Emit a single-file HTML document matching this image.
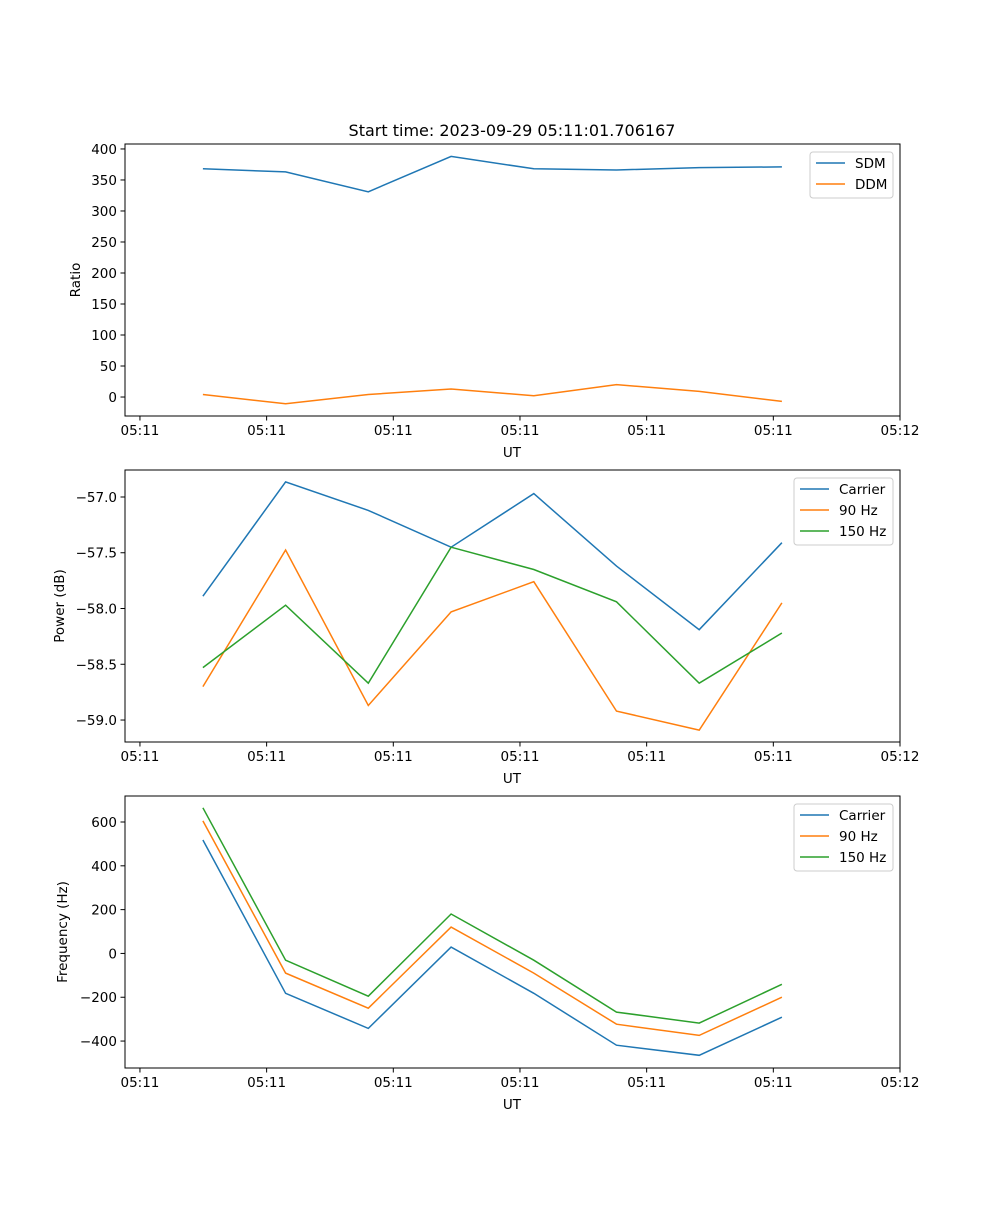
<!DOCTYPE html>
<html><head><meta charset="utf-8"><style>
html,body{margin:0;padding:0;background:#fff;}
svg text{font-family:"DejaVu Sans","Liberation Sans",sans-serif;fill:#000;}
</style></head><body>
<svg id="fig" width="1000" height="1200" xmlns="http://www.w3.org/2000/svg">
<rect width="1000" height="1200" fill="#fff"/>
<text x="512" y="136" font-size="16" text-anchor="middle">Start time: 2023-09-29 05:11:01.706167</text>
</svg>
<script>
const xTickLabels = ["05:11","05:11","05:11","05:11","05:11","05:11","05:12"];
const xTickSeconds = [0,10,20,30,40,50,60];
const sampleSeconds = [4.97,11.5,18.03,24.56,31.09,37.62,44.15,50.68];
const sdm = [368,363,331,388,368,366,370,371];
const ddm = [4,-11,4,13,2,20,9,-7];
const powCarrier = [-57.89,-56.865,-57.12,-57.45,-56.97,-57.62,-58.19,-57.41];
const pow90 = [-58.70,-57.475,-58.87,-58.03,-57.76,-58.92,-59.09,-57.95];
const pow150 = [-58.53,-57.97,-58.67,-57.45,-57.65,-57.94,-58.67,-58.22];
const freqCarrier = [518,-182,-342,29,-182,-419,-465,-291];
const freq90 = [605,-90,-250,120,-90,-323,-374,-200];
const freq150 = [665,-31,-195,180,-31,-268,-318,-141];
const ratioTicks = [0,50,100,150,200,250,300,350,400];
const powTicks = [-59.0,-58.5,-58.0,-57.5,-57.0];
const freqTicks = [-400,-200,0,200,400,600];

const NS="http://www.w3.org/2000/svg";
const svg=document.getElementById('fig');
function el(tag,attrs,parent){const e=document.createElementNS(NS,tag);for(const k in attrs)e.setAttribute(k,attrs[k]);(parent||svg).appendChild(e);return e;}
const L=125,R=900,X0=-1.18,X1=60;
const xs=s=>L+(s-X0)/(X1-X0)*(R-L);
const C={blue:"#1f77b4",orange:"#ff7f0e",green:"#2ca02c"};

function panel(name,top,bot,y0,y1,yTicks,fmt,ylabel,series,legend){
  const g=el('g',{});
  
  
  const ys=v=>bot-(v-y0)/(y1-y0)*(bot-top);
  series.forEach(s=>{
    const p=el('polyline',{points:s.v.map((v,i)=>xs(sampleSeconds[i]).toFixed(1)+','+ys(v).toFixed(1)).join(' '),fill:'none',stroke:s.c,'stroke-width':1.5},g);
    
    
  });
  el('rect',{x:L,y:top,width:R-L,height:bot-top,fill:'none',stroke:'#000','stroke-width':1},g);
  xTickSeconds.forEach((s,i)=>{const x=xs(s);
    el('line',{x1:x,x2:x,y1:bot,y2:bot+4.5,stroke:'#000'},g);
    const t=el('text',{x:x,y:bot+19,'font-size':13.5,'text-anchor':'middle'},g);t.textContent=xTickLabels[i];
    });
  const xl=el('text',{x:512,y:bot+41,'font-size':13.5,'text-anchor':'middle'},g);xl.textContent='UT';
  
  yTicks.forEach(v=>{const y=ys(v);
    el('line',{x1:L-4.5,x2:L,y1:y,y2:y,stroke:'#000'},g);
    const t=el('text',{x:L-8,y:y+5,'font-size':13.5,'text-anchor':'end'},g);t.textContent=fmt(v);
    });
  const yl=el('text',{x:0,y:0,'font-size':13.5,'text-anchor':'middle',transform:`translate(${legend.yx},${(top+bot)/2}) rotate(-90)`},g);yl.textContent=ylabel;
  
  const lg=el('g',{},g);
  
  
  el('rect',{x:legend.x,y:top+8,width:R-7-legend.x,height:series.length*21+4,rx:3,fill:'#fff',stroke:'#ccc','fill-opacity':0.8},lg);
  series.forEach((s,i)=>{const y=top+19+i*21;
    el('line',{x1:legend.x+6,x2:legend.x+35,y1:y,y2:y,stroke:s.c,'stroke-width':1.5},lg);
    const t=el('text',{x:legend.x+45,y:y+5,'font-size':13.5},lg);t.textContent=s.label;
    });
}
panel('ratio-panel',144,416,-30.6,408,ratioTicks,v=>String(v),'Ratio',
  [{id:'sdm',v:sdm,c:C.blue,label:'SDM'},{id:'ddm',v:ddm,c:C.orange,label:'DDM'}],{x:810,yx:80});
panel('power-panel',470,742,-59.197,-56.758,powTicks,v=>(v<0?'\u2212':'')+Math.abs(v).toFixed(1),'Power (dB)',
  [{id:'carrier',v:powCarrier,c:C.blue,label:'Carrier'},{id:'90hz',v:pow90,c:C.orange,label:'90 Hz'},{id:'150hz',v:pow150,c:C.green,label:'150 Hz'}],{x:794,yx:64});
panel('frequency-panel',796,1068,-523,718.7,freqTicks,v=>(v<0?'\u2212':'')+Math.abs(v),'Frequency (Hz)',
  [{id:'carrier',v:freqCarrier,c:C.blue,label:'Carrier'},{id:'90hz',v:freq90,c:C.orange,label:'90 Hz'},{id:'150hz',v:freq150,c:C.green,label:'150 Hz'}],{x:794,yx:67});
</script>
</body></html>
